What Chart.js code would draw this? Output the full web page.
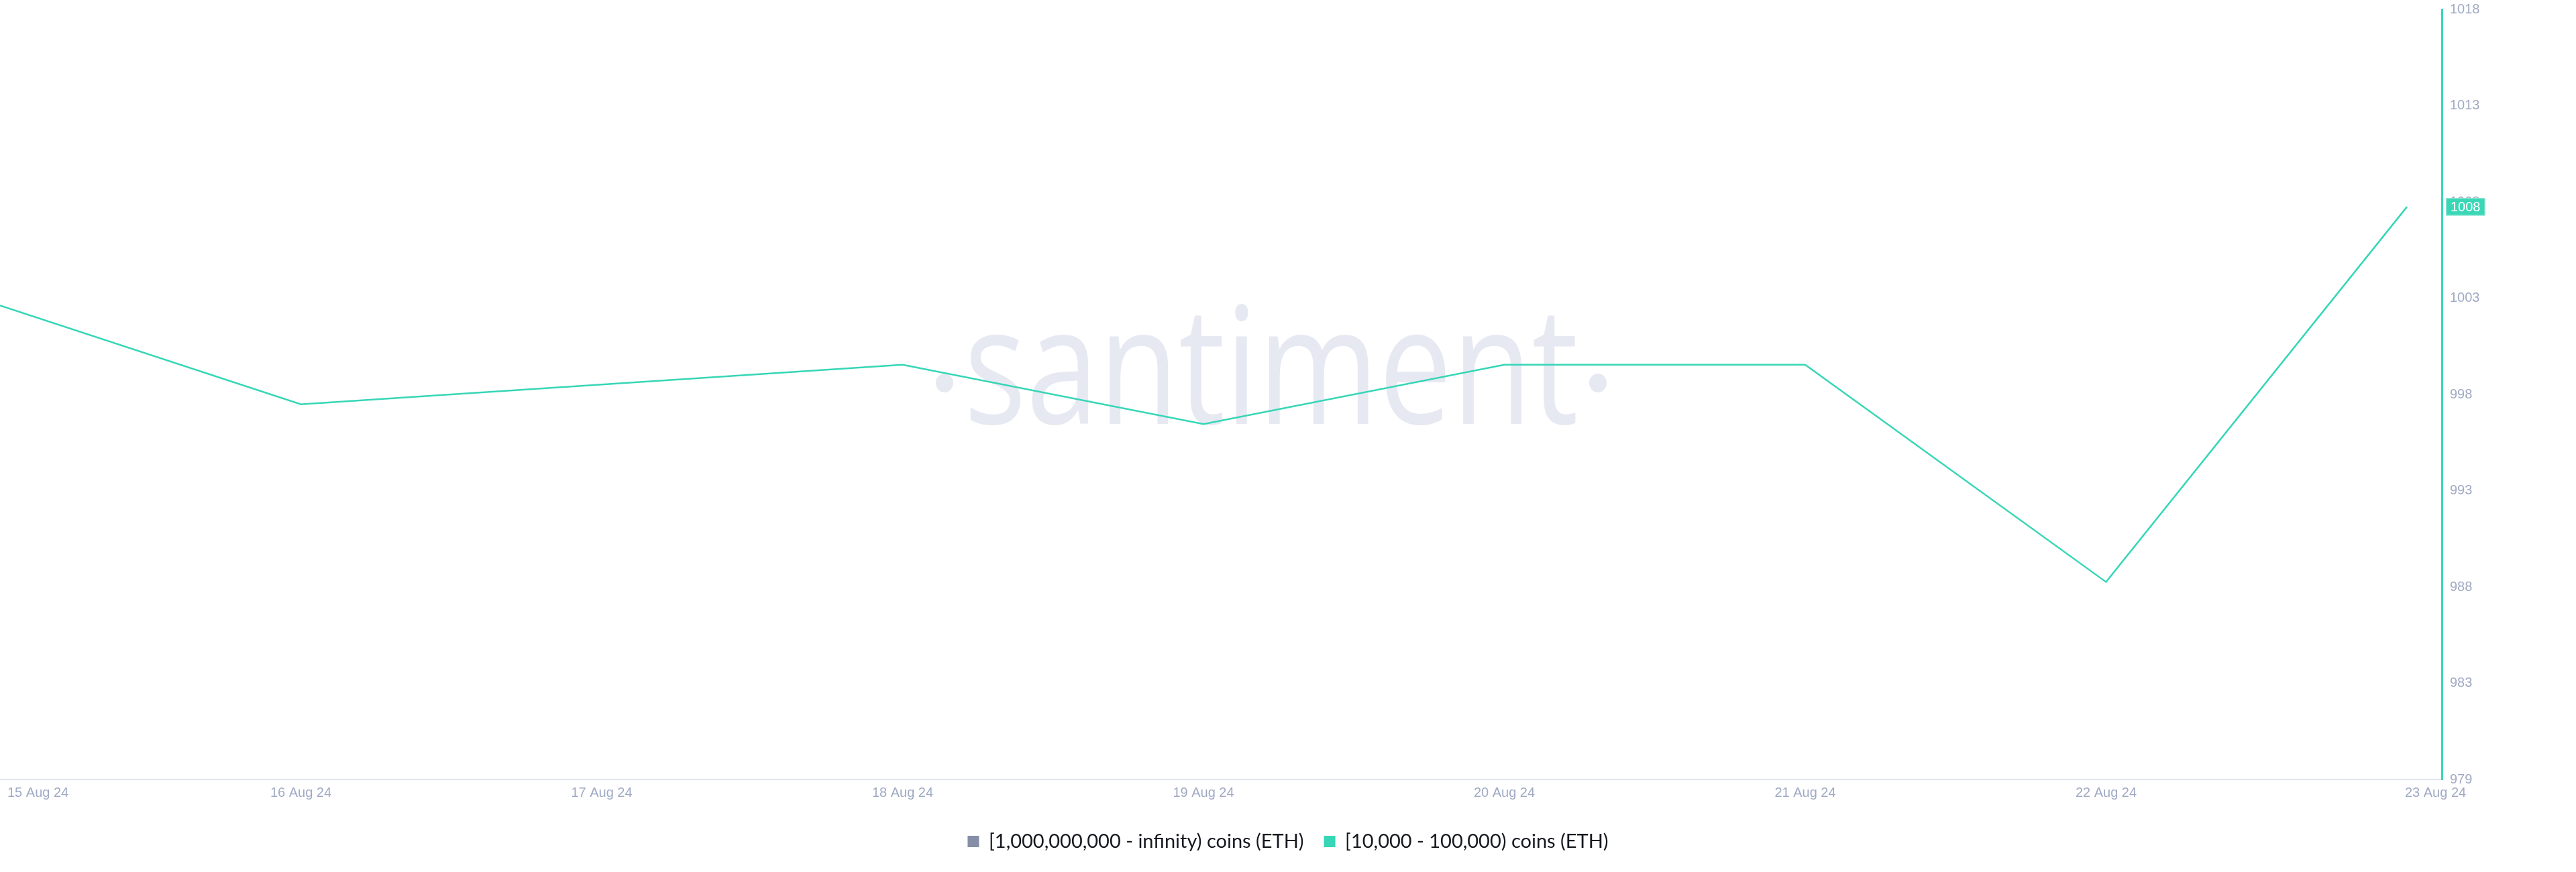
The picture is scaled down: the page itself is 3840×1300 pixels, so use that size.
<!DOCTYPE html>
<html>
<head>
<meta charset="utf-8">
<script src="https://cdn.jsdelivr.net/npm/chart.js@4.4.1/dist/chart.umd.min.js"></script>
<style>
  html, body { margin: 0; padding: 0; background: #fff; }
  #wrap { width: 3840px; height: 1300px; }
</style>
</head>
<body>
<div id="wrap"><canvas id="chart" width="3840" height="1300"></canvas></div>
<script>
// dates on the x axis (one point per day)
const dates = ['15 Aug 24', '16 Aug 24', '17 Aug 24', '18 Aug 24', '19 Aug 24',
               '20 Aug 24', '21 Aug 24', '22 Aug 24', '23 Aug 24'];
// holders of 10,000 - 100,000 ETH (17 Aug has no point, line just spans it)
const holders10kTo100k = [1003, 998, null, 1000, 997, 1000, 1000, 989, 1008];
// holders of 1B+ ETH: nothing plotted in this view
const holdersAbove1B = [];
// right axis
const yMin = 979;
const yMax = 1018;
const yTickLabels = ['979', '983', '988', '993', '998', '1003', '1008', '1013', '1018'];

const teal = '#36d6b6';
const tickColor = '#a0aac4';
const tickFont = '20px "Liberation Sans", Arial, sans-serif';

const toPoints = arr => arr.map((v, i) => ({ x: i, y: v }));

// big faded logo behind the line
const watermark = {
  id: 'watermark',
  beforeDatasetsDraw(chart) {
    const ctx = chart.ctx;
    ctx.save();
    ctx.fillStyle = '#e7e9f2';
    ctx.font = '400 243px "Open Sans", sans-serif';
    ctx.textBaseline = 'alphabetic';
    ctx.textAlign = 'left';
    ctx.translate(1437, 632);
    ctx.scale(0.8, 1);
    ctx.fillText('santiment', 0, 0);
    ctx.restore();
    ctx.save();
    ctx.fillStyle = '#e7e9f2';
    [1408, 2382].forEach(cx => {
      ctx.beginPath();
      ctx.ellipse(cx, 571, 13, 14, 0, 0, Math.PI * 2);
      ctx.fill();
    });
    ctx.restore();
  }
};

// date labels under the axis + value flag on the right axis
const extras = {
  id: 'extras',
  afterDraw(chart) {
    const ctx = chart.ctx;
    const xs = chart.scales.x;
    const ys = chart.scales.y;
    const area = chart.chartArea;
    ctx.save();
    ctx.font = tickFont;
    ctx.fillStyle = tickColor;
    ctx.textBaseline = 'middle';
    dates.forEach((d, i) => {
      const px = xs.getPixelForValue(i);
      if (i === 0) {
        ctx.textAlign = 'left';
        ctx.fillText(d, px + 11, area.bottom + 20);
      } else if (i === dates.length - 1) {
        ctx.textAlign = 'left';
        ctx.fillText(d, px - 3, area.bottom + 20);
      } else {
        ctx.textAlign = 'center';
        ctx.fillText(d, px, area.bottom + 20);
      }
    });

    const last = holders10kTo100k[holders10kTo100k.length - 1];
    const py = ys.getPixelForValue(last);
    const label = String(last);
    const tw = ctx.measureText(label).width;
    const bx = area.right + 6;
    ctx.fillStyle = '#3ad7b7';
    ctx.fillRect(bx, py - 13, tw + 14, 26);
    ctx.strokeStyle = '#9be9d8';
    ctx.lineWidth = 1;
    ctx.strokeRect(bx + 0.5, py - 12.5, tw + 13, 25);
    ctx.fillStyle = '#ffffff';
    ctx.textAlign = 'left';
    ctx.fillText(label, bx + 7, py + 1);
    ctx.restore();
  }
};

const ctx = document.getElementById('chart').getContext('2d');
new Chart(ctx, {
  type: 'line',
  data: {
    datasets: [
      {
        label: '[1,000,000,000 - infinity) coins (ETH)',
        data: toPoints(holdersAbove1B),
        borderColor: '#868ea7',
        backgroundColor: '#868ea7',
        borderWidth: 2.5,
        pointRadius: 0
      },
      {
        label: '[10,000 - 100,000) coins (ETH)',
        data: toPoints(holders10kTo100k),
        borderColor: teal,
        backgroundColor: teal,
        borderWidth: 2.5,
        pointRadius: 0,
        tension: 0,
        spanGaps: true
      }
    ]
  },
  options: {
    responsive: false,
    animation: false,
    devicePixelRatio: 1,
    layout: {
      autoPadding: false,
      padding: { top: 14, left: 0, right: 0, bottom: 21 }
    },
    plugins: {
      tooltip: { enabled: false },
      legend: {
        position: 'bottom',
        labels: {
          boxWidth: 17,
          boxHeight: 17,
          padding: 30,
          color: '#16181f',
          font: { family: 'Lato', size: 29 },
          generateLabels(chart) {
            const items = Chart.defaults.plugins.legend.labels.generateLabels(chart);
            items.forEach(it => { it.lineWidth = 0; });
            return items;
          }
        }
      }
    },
    scales: {
      x: {
        type: 'linear',
        min: 0,
        max: 8.116,
        grid: { display: false, drawTicks: false },
        ticks: { display: false },
        border: { color: '#e2e6ef', width: 2 },
        afterFit(scale) { scale.height = 48; }
      },
      y: {
        position: 'right',
        min: yMin,
        max: yMax,
        grid: { display: false, drawTicks: false },
        border: { color: teal, width: 3 },
        afterBuildTicks(scale) {
          scale.ticks = yTickLabels.map((_, i) => ({
            value: yMin + (yMax - yMin) * i / (yTickLabels.length - 1)
          }));
        },
        ticks: {
          padding: 12,
          color: tickColor,
          font: { family: '"Liberation Sans", Arial, sans-serif', size: 20 },
          callback: (v, i) => yTickLabels[i]
        },
        afterFit(scale) {
          scale.width = 200;
          scale.paddingTop = 0;
        }
      }
    }
  },
  plugins: [watermark, extras]
});
</script>
</body>
</html>
